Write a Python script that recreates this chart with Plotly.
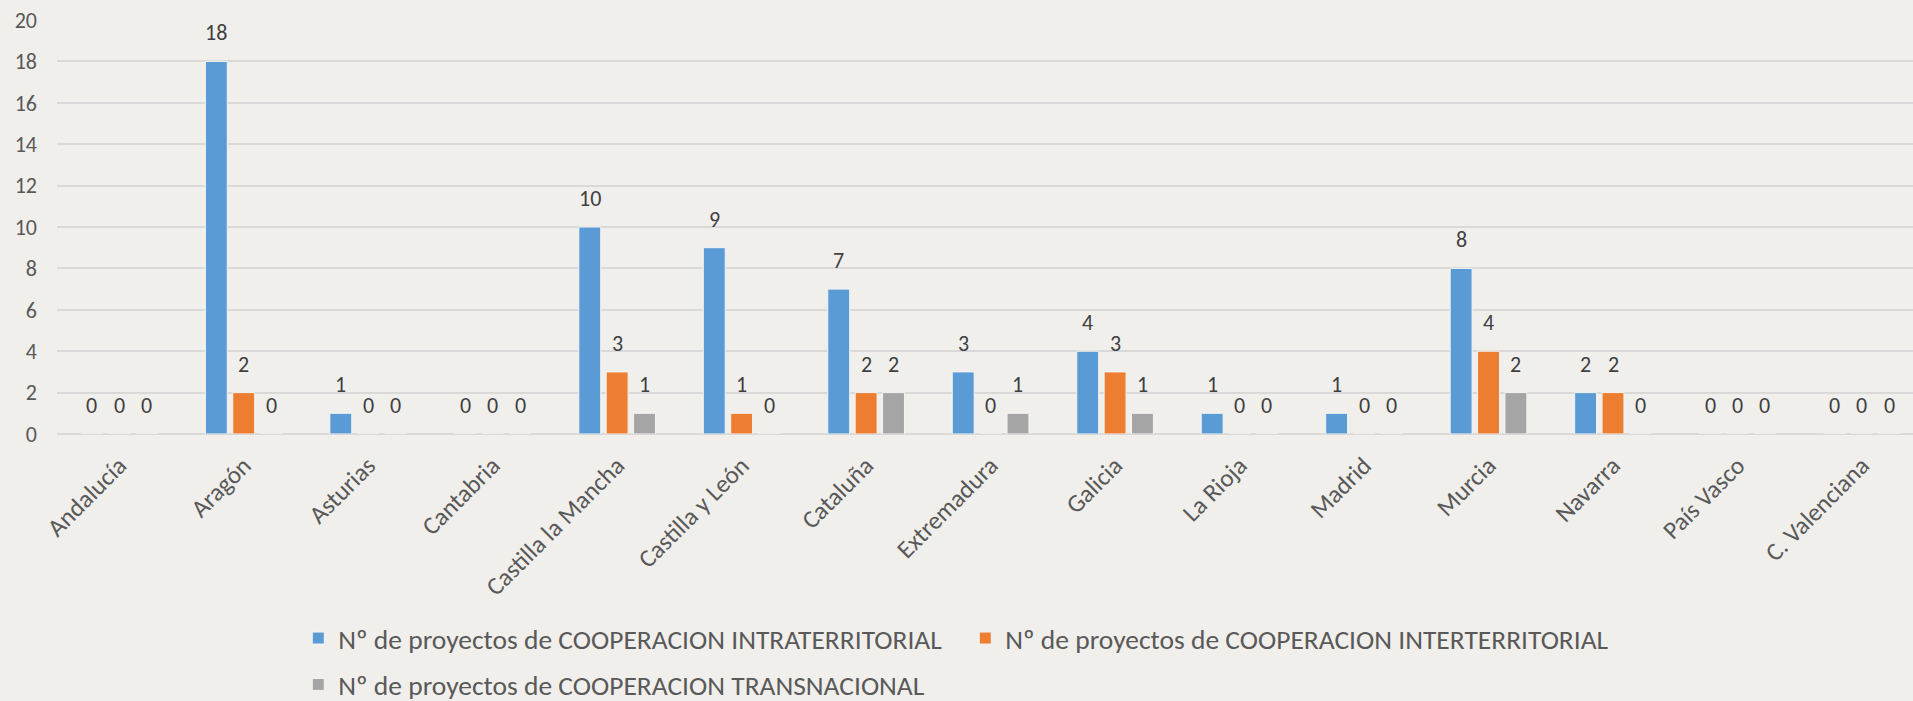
import plotly.graph_objects as go

categories = ["Andalucía", "Aragón", "Asturias", "Cantabria", "Castilla la Mancha",
              "Castilla y León", "Cataluña", "Extremadura", "Galicia", "La Rioja",
              "Madrid", "Murcia", "Navarra", "País Vasco", "C. Valenciana"]
intra = [0, 18, 1, 0, 10, 9, 7, 3, 4, 1, 1, 8, 2, 0, 0]
inter = [0, 2, 0, 0, 3, 1, 2, 0, 3, 0, 0, 4, 2, 0, 0]
trans = [0, 0, 0, 0, 1, 0, 2, 1, 1, 0, 0, 2, 0, 0, 0]
names = ["Nº de proyectos de COOPERACION INTRATERRITORIAL",
         "Nº de proyectos de COOPERACION INTERTERRITORIAL",
         "Nº de proyectos de COOPERACION TRANSNACIONAL"]
colors = ["#5B9BD5", "#ED7D31", "#A5A5A5"]
legends = ["legend", "legend", "legend2"]
yticks = [0, 2, 4, 6, 8, 10, 12, 14, 16, 18, 20]

FONT = "Calibri, Carlito, Lato, sans-serif"
BG = "#F0EFEC"
TXT = "#595959"

W, H = 1913, 701
ML, MR, MT, MB = 57, 0, 20, 267
BARGAP, GROUPGAP = 0.34, 0.2
XRANGE = [-0.5, 14.41]

fig = go.Figure()
series = [intra, inter, trans]
for vals, name, col, lg in zip(series, names, colors, legends):
    fig.add_trace(go.Bar(
        x=categories, y=vals, name=name, legend=lg,
        marker=dict(color=col, line=dict(color="#F4F4F2", width=1)),
        hoverinfo="x+y+name",
    ))

# data labels above each bar (offset within the group follows the bar layout)
px_per_unit = (W - ML - MR) / (XRANGE[1] - XRANGE[0])
slot = (1 - BARGAP) / len(series)
for s, vals in enumerate(series):
    for cat, v in zip(categories, vals):
        fig.add_annotation(
            x=cat, y=v, xref="x", yref="y", text=str(v), showarrow=False,
            xshift=(s - (len(series) - 1) / 2) * slot * px_per_unit,
            yshift=13, yanchor="bottom",
            font=dict(family=FONT, size=22, color="#404040"),
        )

legend_common = dict(orientation="h", xanchor="left", yanchor="top",
                     entrywidth=622, font=dict(family=FONT, size=27.5, color=TXT),
                     bgcolor="rgba(0,0,0,0)", tracegroupgap=0)

fig.update_layout(
    width=W, height=H,
    paper_bgcolor=BG, plot_bgcolor=BG,
    barmode="group", bargap=BARGAP, bargroupgap=GROUPGAP,
    margin=dict(l=ML, r=MR, t=MT, b=MB, autoexpand=False),
    font=dict(family=FONT, size=22, color=TXT),
    showlegend=True,
    legend=dict(x=0.13, y=-0.434, **legend_common),
    legend2=dict(x=0.13, y=-0.546, **legend_common),
    xaxis=dict(range=XRANGE, tickangle=-45, showgrid=False, showline=False,
               ticks="", ticklabelstandoff=11, automargin=False,
               tickfont=dict(family=FONT, size=25, color=TXT)),
    yaxis=dict(range=[0, 20], tickvals=yticks, showgrid=True, gridcolor="#D9D9D9",
               gridwidth=1.5, zeroline=True, zerolinecolor="#D9D9D9", zerolinewidth=1.5,
               ticks="", ticklabelstandoff=19, automargin=False,
               tickfont=dict(family=FONT, size=22, color=TXT)),
)

fig.write_html("out.html", config={"displayModeBar": False},
               post_script="document.body.style.margin='0';")
